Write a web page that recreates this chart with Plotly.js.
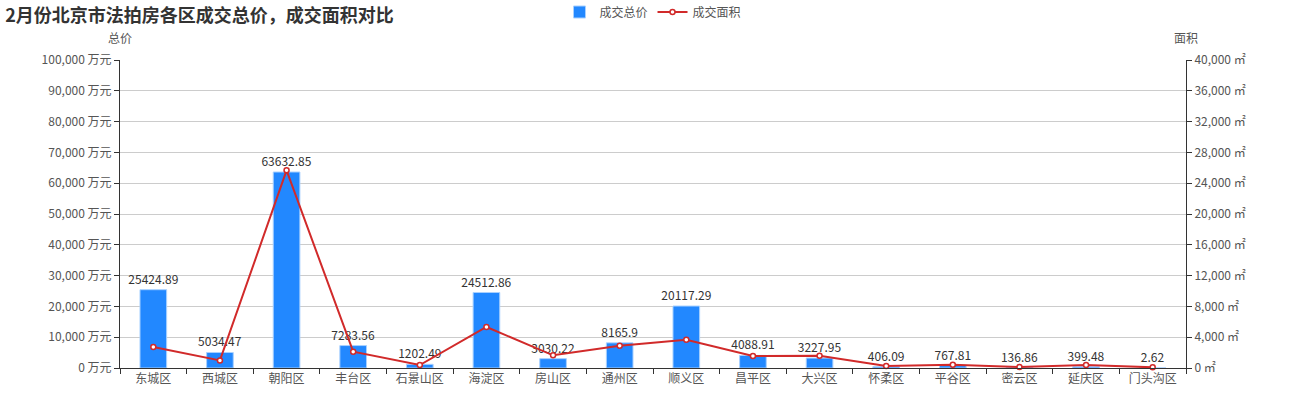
<!DOCTYPE html>
<html>
<head>
<meta charset="utf-8">
<script src="https://cdn.plot.ly/plotly-3.0.1.min.js"></script>
<style>html,body{margin:0;padding:0;background:#fff;}#chart{width:1300px;height:400px;}</style>
</head>
<body>
<div id="chart"></div>
<script>
const districts = ["东城区","西城区","朝阳区","丰台区","石景山区","海淀区","房山区","通州区","顺义区","昌平区","大兴区","怀柔区","平谷区","密云区","延庆区","门头沟区"];
const totalPrice = [25424.89, 5034.47, 63632.85, 7283.56, 1202.49, 24512.86, 3030.22, 8165.9, 20117.29, 4088.91, 3227.95, 406.09, 767.81, 136.86, 399.48, 2.62];
const totalPriceLabels = ["25424.89","5034.47","63632.85","7283.56","1202.49","24512.86","3030.22","8165.9","20117.29","4088.91","3227.95","406.09","767.81","136.86","399.48","2.62"];
const area = [2720, 990, 25670, 2120, 390, 5330, 1650, 2900, 3680, 1560, 1600, 260, 430, 130, 390, 90];

const font = "'Noto Sans CJK SC', 'Noto Sans', sans-serif";

const traces = [
  {
    type: 'bar', name: '成交总价', x: districts, y: totalPrice,
    text: totalPriceLabels, textposition: 'outside', cliponaxis: false, constraintext: 'none',
    textfont: {color: '#333', size: 12, family: font},
    marker: {color: '#2288ff', line: {color: '#a8d0ff', width: 1}},
    width: 0.4, yaxis: 'y'
  },
  {
    type: 'scatter', mode: 'lines+markers', name: '成交面积', x: districts, y: area,
    line: {color: '#d12a2a', width: 2},
    marker: {color: '#ffffff', size: 5, line: {color: '#d12a2a', width: 1.5}},
    yaxis: 'y2', cliponaxis: false
  }
];

const layout = {
  width: 1300, height: 400,
  margin: {l: 120, r: 114, t: 60, b: 32},
  paper_bgcolor: '#fff', plot_bgcolor: '#fff',
  font: {family: font, size: 12, color: '#555'},
  title: {text: '<b>2月份北京市法拍房各区成交总价，成交面积对比</b>', x: 0.004, xanchor: 'left', yref: 'container', y: 0.962, yanchor: 'middle', font: {size: 18, color: '#333', family: font}},
  showlegend: true,
  legend: {orientation: 'h', x: 0.5, xanchor: 'center', yref: 'container', y: 0.97, yanchor: 'middle', font: {size: 12, color: '#555'}, itemwidth: 30, bgcolor: 'rgba(0,0,0,0)'},
  xaxis: {
    type: 'category', range: [-0.5, 15.5], autorange: false, showline: true, linecolor: '#333', linewidth: 1,
    ticks: 'outside', tickson: 'boundaries', ticklen: 5, tickcolor: '#333',
    tickfont: {size: 12, color: '#555'}, showgrid: false, zeroline: false
  },
  yaxis: {
    range: [0, 100000], autorange: false, dtick: 10000, tickformat: ',d', ticksuffix: ' 万元',
    showline: true, linecolor: '#333', ticks: 'outside', ticklen: 5, tickcolor: '#333',
    gridcolor: '#cccccc', zeroline: false, tickfont: {size: 12, color: '#555'}
  },
  yaxis2: {
    overlaying: 'y', side: 'right', range: [0, 40000], autorange: false, dtick: 4000, tickformat: ',d', ticksuffix: ' ㎡',
    showline: true, linecolor: '#333', ticks: 'outside', ticklen: 5, tickcolor: '#333',
    showgrid: false, zeroline: false, tickfont: {size: 12, color: '#555'}
  },
  annotations: [
    {text: '总价', xref: 'paper', yref: 'paper', x: 0, y: 1, xanchor: 'center', yanchor: 'bottom', yshift: 12, showarrow: false, font: {size: 12, color: '#555'}},
    {text: '面积', xref: 'paper', yref: 'paper', x: 1, y: 1, xanchor: 'center', yanchor: 'bottom', yshift: 12, showarrow: false, font: {size: 12, color: '#555'}}
  ]
};

Plotly.newPlot('chart', traces, layout, {displayModeBar: false, staticPlot: true});
</script>
</body>
</html>
